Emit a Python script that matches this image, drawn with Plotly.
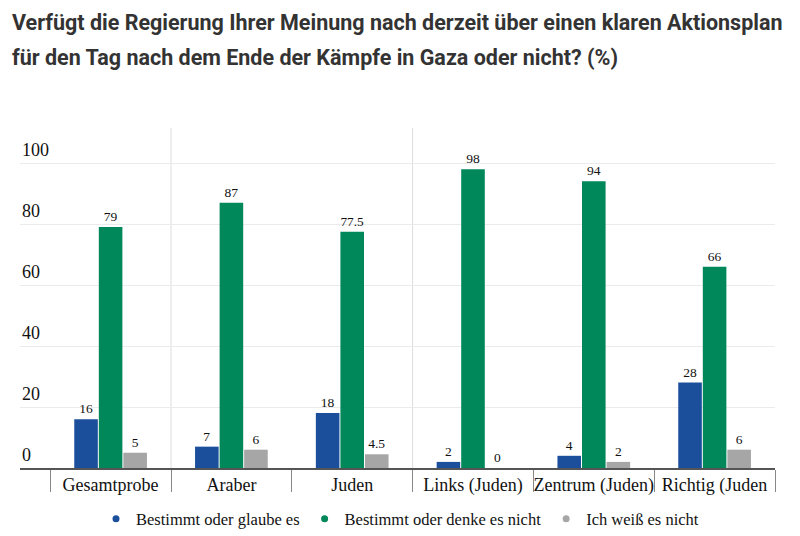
import plotly.graph_objects as go

categories = ["Gesamtprobe", "Araber", "Juden", "Links (Juden)", "Zentrum (Juden)", "Richtig (Juden"]
series_names = ["Bestimmt oder glaube es", "Bestimmt oder denke es nicht", "Ich weiß es nicht"]
glaube_es = [16, 7, 18, 2, 4, 28]
denke_nicht = [79, 87, 77.5, 98, 94, 66]
weiss_nicht = [5, 6, 4.5, 0, 2, 6]
y_ticks = [0, 20, 40, 60, 80, 100]
colors = ["#1b4f9c", "#00875a", "#a6a6a6"]

title_line1 = "Verfügt die Regierung Ihrer Meinung nach derzeit über einen klaren Aktionsplan"
title_line2 = "für den Tag nach dem Ende der Kämpfe in Gaza oder nicht? (%)"

serif = "Liberation Serif, Times New Roman, serif"

# the page places the figure 8px from the top-left corner
OFF = 8
PLOT_TOP = 128 - OFF
PLOT_BOTTOM = 536 - (468 - OFF)
PLOT_L = 20 - OFF
PLOT_R = 800 - (775 - OFF)
plot_h = 536 - PLOT_TOP - PLOT_BOTTOM
plot_w = 800 - PLOT_L - PLOT_R

fig = go.Figure()
for name, vals, col in zip(series_names, [glaube_es, denke_nicht, weiss_nicht], colors):
    fig.add_trace(go.Bar(
        x=categories, y=vals, name=name, showlegend=False,
        marker=dict(color=col, line=dict(width=0)),
        text=[("%g" % v) for v in vals], textposition="outside",
        textfont=dict(family=serif, size=13.5, color="#111111"),
        cliponaxis=False,
    ))
    fig.add_trace(go.Scatter(
        x=[None], y=[None], mode="markers", name=name,
        marker=dict(color=col, size=7, symbol="circle"),
    ))

fig.update_layout(
    width=800, height=536,
    margin=dict(l=PLOT_L, r=PLOT_R, t=PLOT_TOP, b=PLOT_BOTTOM, autoexpand=False),
    paper_bgcolor="white", plot_bgcolor="white",
    barmode="group", bargap=0.39, bargroupgap=0.04,
    legend=dict(orientation="h", x=(400 - OFF - PLOT_L) / plot_w, xanchor="center",
                y=1 - (519 - OFF - PLOT_TOP) / plot_h, yanchor="middle",
                font=dict(family=serif, size=16.5, color="#111111"),
                itemwidth=30, tracegroupgap=0),
    xaxis=dict(
        type="category", range=[-0.75, 5.5], automargin=False,
        showgrid=False, showline=True, linecolor="#555555", linewidth=1.5,
        ticks="outside", tickson="boundaries", ticklen=22, tickcolor="#888888", tickwidth=1,
        tickangle=0,
        tickfont=dict(family=serif, size=18, color="#111111"),
        zeroline=False,
    ),
    yaxis=dict(
        range=[0, 111.5], tickvals=y_ticks, showticklabels=False, automargin=False,
        showgrid=True, gridcolor="#ebebeb", gridwidth=1,
        zeroline=False, showline=False,
    ),
)

# y tick labels drawn above the gridlines, left-aligned
for t in y_ticks:
    fig.add_annotation(
        x=0, xref="paper", y=t, yref="y", text=str(t), showarrow=False,
        xanchor="left", yanchor="bottom", yshift=1,
        font=dict(family=serif, size=18, color="#111111"),
    )

# light vertical separators
for xv in [0.5, 2.5]:
    fig.add_shape(type="line", xref="x", yref="paper", x0=xv, x1=xv, y0=0, y1=1,
                  line=dict(color="#dddddd", width=1), layer="below")

# title (two lines, positioned in page pixel rows converted to paper coords)
for text, row in [(title_line1, 22), (title_line2, 57)]:
    fig.add_annotation(
        x=(10 - OFF - PLOT_L) / plot_w, xref="paper",
        y=1 + (PLOT_TOP - (row - OFF)) / plot_h, yref="paper",
        text=text, showarrow=False, xanchor="left", yanchor="middle",
        font=dict(family="Roboto", size=21.5, color="#333333", weight="bold"),
    )

fig.write_html("out.html")
